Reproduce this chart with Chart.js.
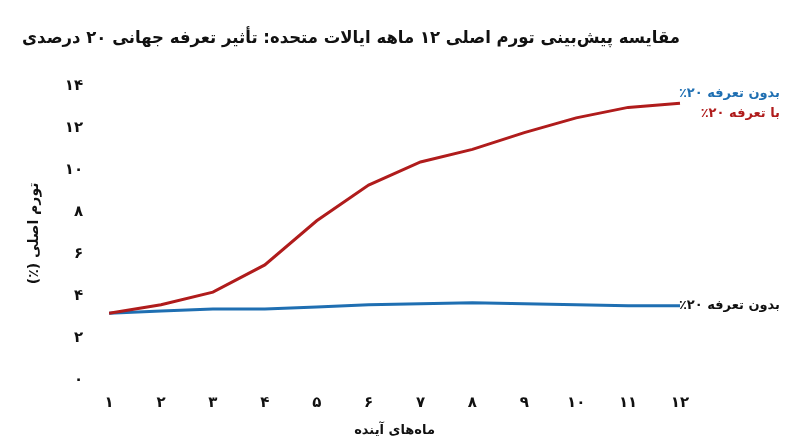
<!DOCTYPE html>
<html><head><meta charset="utf-8">
<script src="https://cdn.jsdelivr.net/npm/chart.js@4/dist/chart.umd.min.js"></script>
<style>body{margin:0;background:#fff}#wrap{width:800px;height:447px}</style>
</head><body><div id="wrap"><canvas id="c" dir="rtl"></canvas></div>
<script>
const months = ['۱','۲','۳','۴','۵','۶','۷','۸','۹','۱۰','۱۱','۱۲'];
const withTariff = [3.2, 3.6, 4.2, 5.5, 7.6, 9.3, 10.4, 11.0, 11.8, 12.5, 13.0, 13.2];
const noTariff = [3.2, 3.3, 3.4, 3.4, 3.5, 3.6, 3.65, 3.7, 3.65, 3.6, 3.55, 3.55];
const yTicks = ['۰','۲','۴','۶','۸','۱۰','۱۲','۱۴'];
const FONT = 'DejaVu Sans';
const BLUE = '#1f6fb2', RED = '#b01c1c';

// labels on the right side
const sideLabels = {
    id: 'sideLabels',
    afterDraw(chart) {
        const ctx = chart.ctx, y = chart.scales.y;
        ctx.save();
        ctx.direction = 'rtl';
        ctx.font = 'bold 13px ' + FONT;
        ctx.textAlign = 'right';
        ctx.textBaseline = 'middle';
        ctx.fillStyle = BLUE; ctx.fillText('بدون تعرفه ۲۰٪', 780, 94);
        ctx.fillStyle = RED; ctx.fillText('با تعرفه ۲۰٪', 780, 114);
        ctx.fillStyle = '#111';
        ctx.fillText('بدون تعرفه ۲۰٪', 780, y.getPixelForValue(noTariff[11]));
        ctx.restore();
    }
};

new Chart(document.getElementById('c'), {
    type: 'line',
    data: {
        labels: months,
        datasets: [
            { label: 'با تعرفه ۲۰٪', data: withTariff, borderColor: RED, borderWidth: 3, pointRadius: 0, tension: 0 },
            { label: 'بدون تعرفه ۲۰٪', data: noTariff, borderColor: BLUE, borderWidth: 3, pointRadius: 0, tension: 0 }
        ]
    },
    options: {
        responsive: true, maintainAspectRatio: false, animation: false,
        layout: { padding: { left: 22, right: 120, top: 0, bottom: 5 } },
        plugins: {
            legend: { display: false },
            title: { display: true, text: 'مقایسه پیش‌بینی تورم اصلی ۱۲ ماهه ایالات متحده: تأثیر تعرفه جهانی ۲۰ درصدی',
                     font: { family: FONT, size: 17, weight: 'bold' }, color: '#111', padding: { top: 28, bottom: 38 } }
        },
        scales: {
            x: { grid: { display: false }, border: { display: false },
                 ticks: { color: '#111', font: { family: FONT, size: 15, weight: 'bold' }, padding: 6 },
                 title: { display: true, text: 'ماه‌های آینده', color: '#111', font: { family: FONT, size: 13, weight: 'bold' } } },
            y: { min: 0, max: 14, grid: { display: false }, border: { display: false },
                 ticks: { stepSize: 2, color: '#111', font: { family: FONT, size: 15, weight: 'bold' }, padding: 18,
                          callback: (v) => yTicks[v / 2] },
                 title: { display: true, text: 'تورم اصلی (٪)', color: '#111', font: { family: FONT, size: 14, weight: 'bold' } } }
        }
    },
    plugins: [sideLabels]
});
</script></body></html>
